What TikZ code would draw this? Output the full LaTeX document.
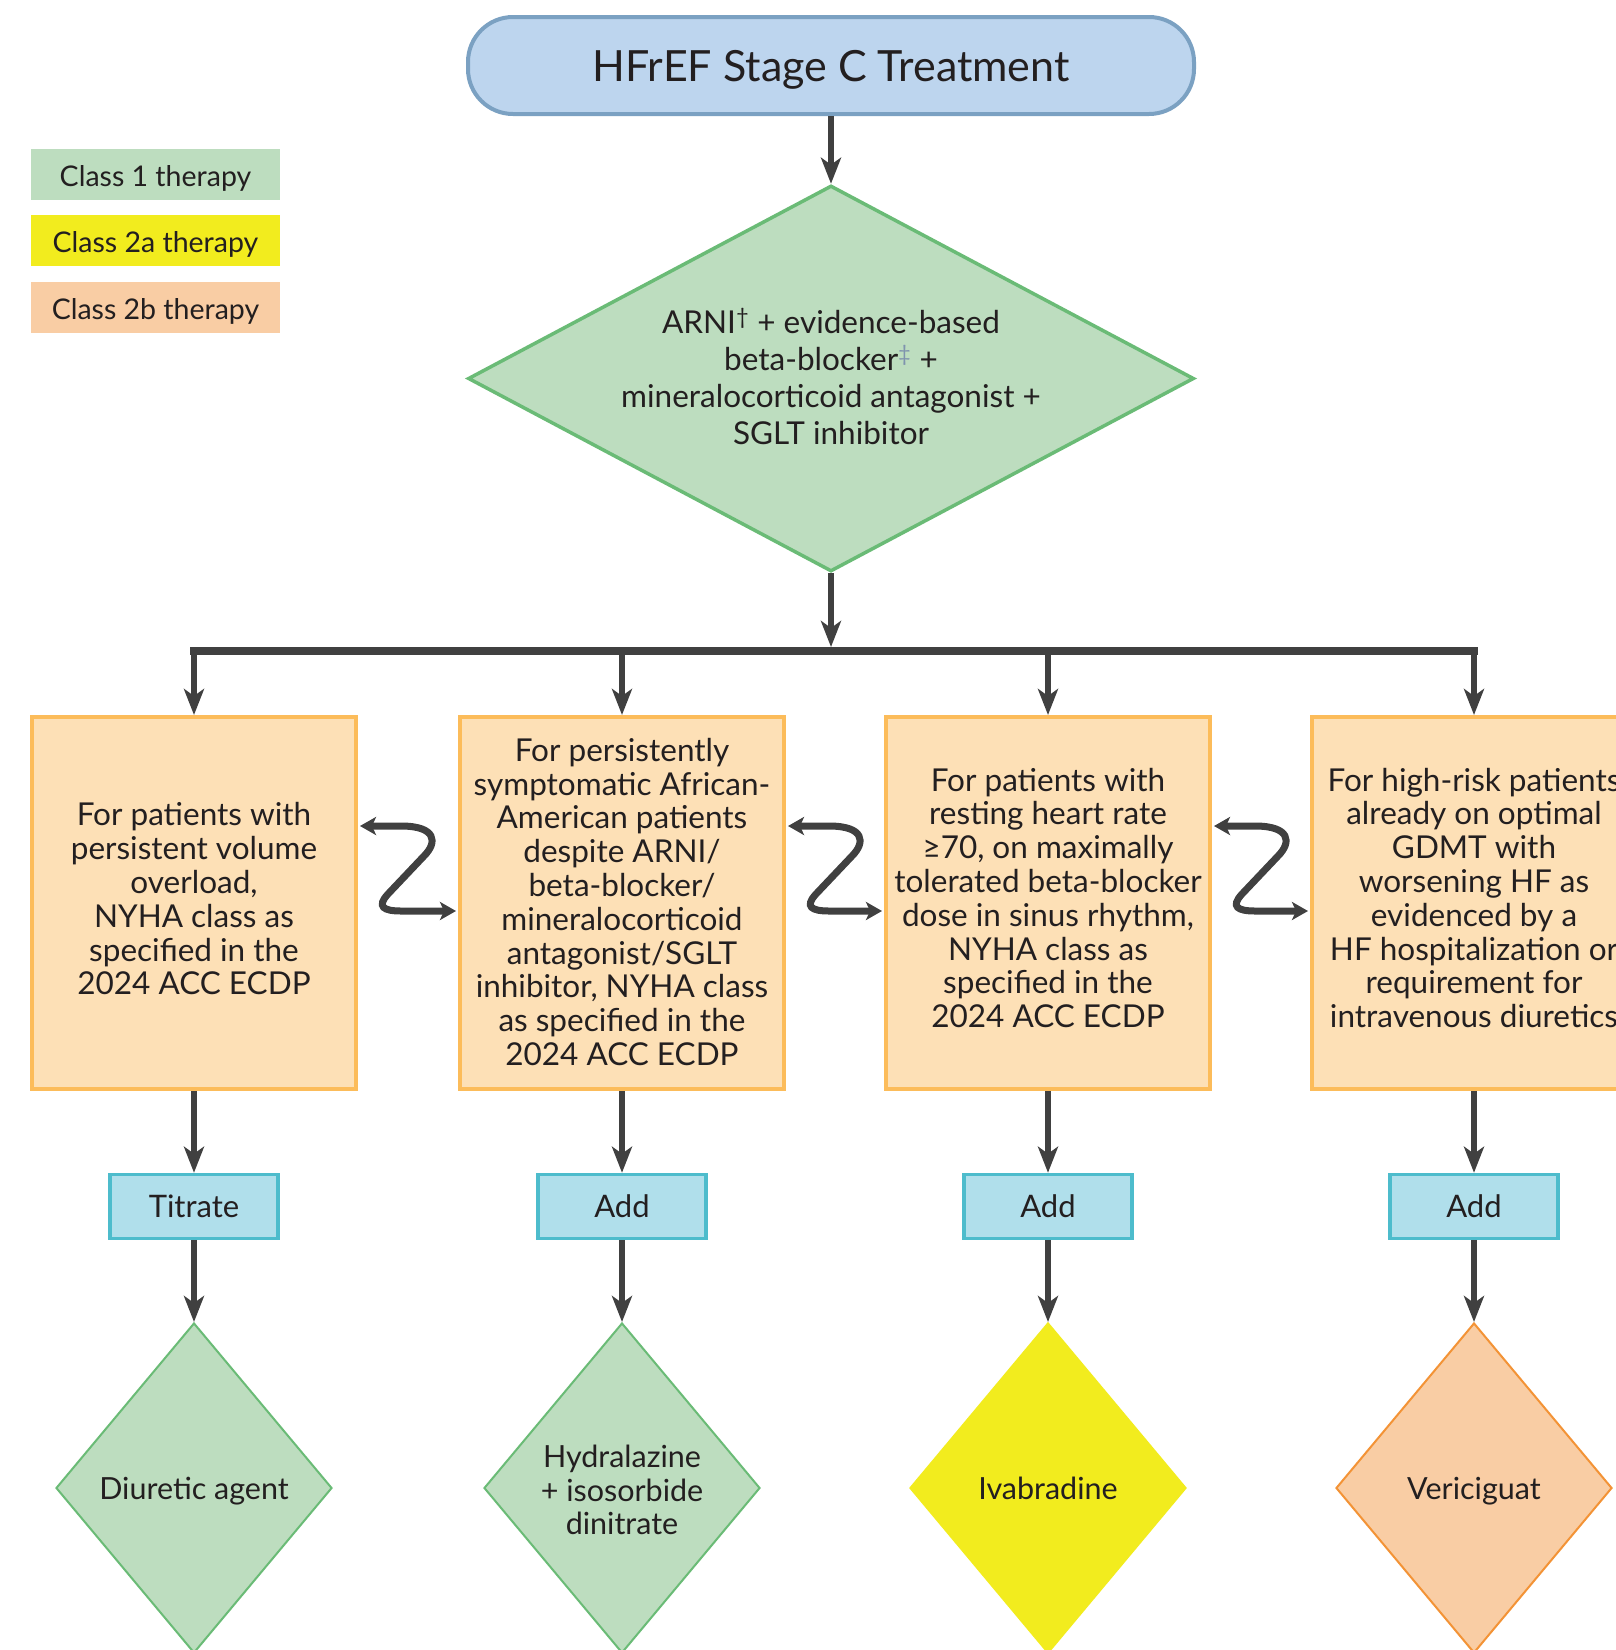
\documentclass[tikz,border=0pt]{standalone}
\usepackage{fontspec}
\setmainfont{Lato}
\usetikzlibrary{arrows.meta,shapes.geometric}
\definecolor{blueF}{HTML}{BDD5EE}
\definecolor{blueB}{HTML}{7BA1C2}
\definecolor{greenF}{HTML}{BDDDBF}
\definecolor{greenB}{HTML}{6ABB76}
\definecolor{yellowF}{HTML}{F2EC1E}
\definecolor{orangeF}{HTML}{F9CDA4}
\definecolor{orangeB}{HTML}{F39336}
\definecolor{boxF}{HTML}{FDE0B6}
\definecolor{boxB}{HTML}{FCBC5A}
\definecolor{tealF}{HTML}{B0DFEB}
\definecolor{tealB}{HTML}{4DBCCC}
\definecolor{arrc}{HTML}{404040}
\definecolor{txtc}{HTML}{231F20}
\definecolor{ddag}{HTML}{7F93AE}
\begin{document}
\begin{tikzpicture}[x=1pt,y=-1pt,
  every node/.style={text=txtc},
  topbox/.style={draw=blueB,fill=blueF,line width=4pt,rounded corners=45pt,
    minimum width=726pt,minimum height=97pt,inner sep=0pt},
  titletext/.style={inner sep=0pt,font=\fontsize{43}{50}\selectfont},
  legbox/.style={minimum width=249pt,minimum height=51pt,inner sep=0pt},
  legtext/.style={inner sep=0pt,font=\fontsize{28.5}{32}\selectfont},
  bigdia/.style={diamond,draw=greenB,fill=greenF,line width=3.5pt,
    minimum width=726pt,minimum height=386pt,inner sep=0pt},
  diatext/.style={align=center,inner sep=0pt,font=\fontsize{31.5}{37}\selectfont},
  obox/.style={draw=boxB,fill=boxF,line width=4pt,minimum width=324pt,
    minimum height=372pt,inner sep=0pt},
  boxtext/.style={align=center,inner sep=0pt,
    font=\fontsize{31.5}{33.8}\selectfont},
  sbox/.style={draw=tealB,fill=tealF,line width=3.5pt,minimum width=168pt,
    minimum height=64pt,inner sep=0pt,font=\fontsize{31}{33}\selectfont},
  smalldia/.style={diamond,line width=2pt,minimum width=276pt,
    minimum height=330pt,inner sep=0pt},
  smalltext/.style={align=center,inner sep=0pt,font=\fontsize{30.5}{33.5}\selectfont},
  arr/.style={draw=arrc,line width=6pt,
    -{Stealth[length=26pt,width=20pt,inset=7pt]}},
  barline/.style={draw=arrc,line width=8pt,line cap=rect},
  sconn/.style={draw=arrc,line width=7pt,
    {Stealth[length=16pt,width=18pt,inset=4pt]}-{Stealth[length=16pt,width=18pt,inset=4pt]}}
]
\path[use as bounding box] (0,0) rectangle (1616,1650);
\clip (0,0) rectangle (1616,1650);
\fill[white] (0,0) rectangle (1616,1650);

% title
\node[topbox] (top) at (831,65.5) {};
\node[titletext] (topt) at ([yshift=-4pt]top.center) {HFrEF Stage C Treatment};

% legend
\node[legbox,fill=greenF] (l1) at (155.5,174.5) {};
\node[legbox,fill=yellowF] (l2) at (155.5,240.5) {};
\node[legbox,fill=orangeF] (l3) at (155.5,307.5) {};
\node[legtext] (l1t) at ([yshift=-4pt]l1.center) {Class 1 therapy};
\node[legtext] (l2t) at ([yshift=-4pt]l2.center) {Class 2a therapy};
\node[legtext] (l3t) at ([yshift=-4pt]l3.center) {Class 2b therapy};

% main diamond
\node[bigdia] (d0) at (831,378.5) {};
\node[diatext] (d0t) at ([yshift=2pt]d0.center) {ARNI\textsuperscript{†} + evidence-based\\
beta-blocker\textsuperscript{\color{ddag}‡} +\\
mineralocorticoid antagonist +\\
SGLT inhibitor};

\draw[arr] (top.south) -- (d0.north);

% bar
\coordinate (bar) at (831,651);
\draw[arr] (d0.south) -- ([yshift=4pt]bar);

% boxes
\node[obox] (b1) at (194,903) {};
\node[obox] (b2) at (622,903) {};
\node[obox] (b3) at (1048,903) {};
\node[obox] (b4) at (1474,903) {};
\node[boxtext] (b1t) at ([yshift=4pt]b1.center) {For patients with\\persistent volume\\overload,\\NYHA class as\\specified in the\\2024 ACC ECDP};
\node[boxtext] (b2t) at ([yshift=1pt]b2.center) {For persistently\\symptomatic African-\\American patients\\despite ARNI/\\beta-blocker/\\mineralocorticoid\\antagonist/SGLT\\inhibitor, NYHA class\\as specified in the\\2024 ACC ECDP};
\node[boxtext] (b3t) at ([yshift=5pt]b3.center) {For patients with\\resting heart rate\\≥70, on maximally\\tolerated beta-blocker\\dose in sinus rhythm,\\NYHA class as\\specified in the\\2024 ACC ECDP};
\node[boxtext] (b4t) at ([yshift=5pt]b4.center) {For high-risk patients\\already on optimal\\GDMT with\\worsening HF as\\evidenced by a\\HF hospitalization or\\requirement for\\intravenous diuretics};

\draw[barline] (b1.north |- bar) -- (b4.north |- bar);
\foreach \b in {b1,b2,b3,b4}{
  \draw[arr] (\b.north |- bar) -- (\b.north);
}

% S connectors
\foreach \l/\r in {b1/b2,b2/b3,b3/b4}{
  \draw[sconn] ([xshift=2pt,yshift=77pt]\l.east) -- ++(41,0)
    .. controls +(35,0) and +(14,-14) .. ++(23,30)
    -- ++(-36,38)
    .. controls +(-12,13) and +(-17,0) .. ++(13,17)
    -- ([xshift=-2pt,yshift=-8pt]\r.west);
}

% action boxes
\node[sbox] (s1) at (194,1206.5) {Titrate};
\node[sbox] (s2) at (622,1206.5) {Add};
\node[sbox] (s3) at (1048,1206.5) {Add};
\node[sbox] (s4) at (1474,1206.5) {Add};

% bottom diamonds
\node[smalldia,draw=greenB,fill=greenF] (e1) at (194,1488) {};
\node[smalldia,draw=greenB,fill=greenF] (e2) at (622,1488) {};
\node[smalldia,draw=yellowF,fill=yellowF] (e3) at (1048,1488) {};
\node[smalldia,draw=orangeB,fill=orangeF] (e4) at (1474,1488) {};
\node[smalltext] (e1t) at ([yshift=-3pt]e1.center) {Diuretic agent};
\node[smalltext] (e2t) at ([yshift=-2pt]e2.center) {Hydralazine\\+ isosorbide\\dinitrate};
\node[smalltext] (e3t) at (e3) {Ivabradine};
\node[smalltext] (e4t) at ([yshift=-3pt]e4.center) {Vericiguat};

\foreach \i in {1,2,3,4}{
  \draw[arr] (b\i.south) -- (s\i.north);
  \draw[arr] (s\i.south) -- (e\i.north);
}
\end{tikzpicture}
\end{document}
